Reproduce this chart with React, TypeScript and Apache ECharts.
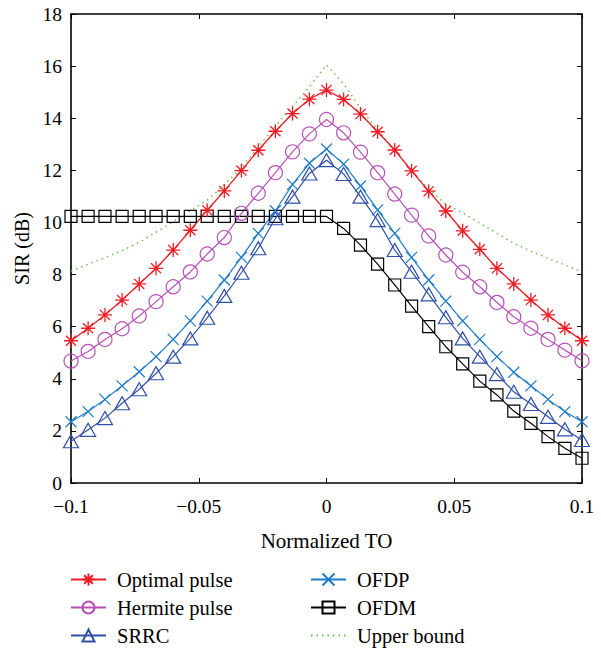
import React, { useEffect, useRef } from "react";
import * as echarts from "echarts";

const toValues = [
  -0.1, -0.0933, -0.0867, -0.08, -0.0733, -0.0667, -0.06, -0.0533, -0.0467, -0.04, -0.0333,
  -0.0267, -0.02, -0.0133, -0.0067, 0, 0.0067, 0.0133, 0.02, 0.0267, 0.0333, 0.04, 0.0467,
  0.0533, 0.06, 0.0667, 0.0733, 0.08, 0.0867, 0.0933, 0.1,
];

const optimalPulse = [
  5.46, 5.94, 6.45, 7.02, 7.64, 8.24, 8.94, 9.7, 10.47, 11.21, 11.99, 12.77, 13.5, 14.18, 14.73,
  15.08, 14.72, 14.16, 13.48, 12.78, 11.98, 11.2, 10.44, 9.68, 8.97, 8.24, 7.64, 7.02, 6.45, 5.94,
  5.46,
];
const hermitePulse = [
  4.68, 5.05, 5.51, 5.92, 6.41, 6.96, 7.53, 8.1, 8.79, 9.42, 10.35, 11.12, 11.91, 12.71, 13.4,
  13.95, 13.44, 12.7, 11.91, 11.09, 10.28, 9.48, 8.75, 8.09, 7.53, 6.93, 6.38, 5.94, 5.51, 5.1,
  4.69,
];
const srrc = [
  1.6, 2.04, 2.49, 3.06, 3.6, 4.21, 4.85, 5.55, 6.34, 7.18, 8.07, 9.01, 10.16, 10.99, 11.88, 12.39,
  11.86, 10.99, 10.09, 8.94, 8.11, 7.24, 6.36, 5.55, 4.85, 4.18, 3.5, 3.03, 2.54, 2.06, 1.65,
];
const ofdp = [
  2.35, 2.74, 3.21, 3.73, 4.27, 4.85, 5.51, 6.22, 6.98, 7.79, 8.66, 9.58, 10.45, 11.46, 12.27,
  12.82, 12.24, 11.4, 10.48, 9.58, 8.66, 7.79, 6.98, 6.22, 5.51, 4.85, 4.25, 3.73, 3.21, 2.74,
  2.35,
];
const ofdm = [
  10.23, 10.23, 10.23, 10.23, 10.23, 10.23, 10.23, 10.23, 10.23, 10.23, 10.23, 10.23, 10.23, 10.23,
  10.23, 10.23, 9.77, 9.13, 8.4, 7.6, 6.79, 6.0, 5.23, 4.57, 3.91, 3.38, 2.76, 2.29, 1.78, 1.33,
  0.95,
];
const upperBound = [
  8.13, 8.4, 8.65, 8.92, 9.24, 9.62, 10.03, 10.45, 10.85, 11.45, 12.1, 12.9, 13.7, 14.45, 15.2,
  16.05, 15.32, 14.38, 13.55, 12.78, 12.0, 11.28, 10.7, 10.37, 9.98, 9.58, 9.2, 8.9, 8.62, 8.37,
  8.1,
];

const seriesNames = ["Optimal pulse", "Hermite pulse", "SRRC", "OFDP", "OFDM", "Upper bound"];

const FONT = "'Liberation Serif', 'Times New Roman', serif";

const ASTERISK = "path://M0,-10L0,10M-10,0L10,0M-7.2,-7.2L7.2,7.2M-7.2,7.2L7.2,-7.2";
const XMARK = "path://M-10,-10L10,10M-10,10L10,-10";

function pairs(ys: number[]) {
  return ys.map((y, i) => [toValues[i], y]);
}

export default function App() {
  const ref = useRef<HTMLDivElement>(null);
  useEffect(() => {
    if (!ref.current) return;
    const chart = echarts.init(ref.current, null, { renderer: "svg" });
    const fmt = (v: number) => {
      const s = String(Number(v.toFixed(3)));
      return s.replace("-", "\u2212");
    };
    const mk = (
      name: string,
      data: number[],
      color: string,
      symbol: string,
      size: number | number[],
      extra: any = {}
    ) => ({
      name,
      type: "line",
      data: pairs(data),
      symbol,
      symbolSize: size,
      showSymbol: symbol !== "none",
      lineStyle: { color, width: 1.2, ...(extra.lineStyle || {}) },
      itemStyle: { color: "none", borderColor: color, borderWidth: 1.2, ...(extra.itemStyle || {}) },
      emphasis: { disabled: true },
      z: extra.z || 2,
    });
    const legendCommon = {
      orient: "vertical",
      itemWidth: 35,
      itemHeight: 15,
      itemGap: 7,
      padding: 0,
      height: 80,
      textStyle: { fontFamily: FONT, fontSize: 20.5, color: "#000", lineHeight: 20, padding: [0, 0, 0, 6] },
      selectedMode: false,
    };
    chart.setOption({
      animation: false,
      backgroundColor: "#fff",
      textStyle: { fontFamily: FONT },
      grid: { left: 71, right: 19, top: 14, height: 469, containLabel: false },
      legend: [
        { ...legendCommon, left: 70, top: 569, data: seriesNames.slice(0, 3) },
        {
          ...legendCommon,
          left: 310,
          top: 569,
          data: [seriesNames[3], seriesNames[4], { name: seriesNames[5], itemStyle: { opacity: 0 } }],
        },
      ],
      xAxis: [
        {
          type: "value",
          min: -0.1,
          max: 0.1,
          interval: 0.05,
          position: "bottom",
          name: "Normalized TO",
          nameLocation: "middle",
          nameGap: 47,
          nameTextStyle: { fontFamily: FONT, fontSize: 21, color: "#000" },
          axisLine: { show: true, onZero: false, lineStyle: { color: "#000", width: 1.6 } },
          axisTick: { show: true, inside: true, length: 5, lineStyle: { color: "#000", width: 1 } },
          axisLabel: { fontFamily: FONT, fontSize: 19.5, color: "#000", margin: 13, formatter: fmt },
          splitLine: { show: false },
        },
        {
          type: "value",
          min: -0.1,
          max: 0.1,
          interval: 0.05,
          position: "top",
          axisLine: { show: true, onZero: false, lineStyle: { color: "#000", width: 1.6 } },
          axisTick: { show: true, inside: true, length: 5, lineStyle: { color: "#000", width: 1 } },
          axisLabel: { show: false },
          splitLine: { show: false },
        },
      ],
      yAxis: [
        {
          type: "value",
          min: 0,
          max: 18,
          interval: 2,
          position: "left",
          name: "SIR (dB)",
          nameLocation: "middle",
          nameGap: 38,
          nameTextStyle: { fontFamily: FONT, fontSize: 20, color: "#000" },
          axisLine: { show: true, onZero: false, lineStyle: { color: "#000", width: 1.6 } },
          axisTick: { show: true, inside: true, length: 5, lineStyle: { color: "#000", width: 1 } },
          axisLabel: { fontFamily: FONT, fontSize: 19.5, color: "#000", margin: 9 },
          splitLine: { show: false },
        },
        {
          type: "value",
          min: 0,
          max: 18,
          interval: 2,
          position: "right",
          axisLine: { show: true, onZero: false, lineStyle: { color: "#000", width: 1.6 } },
          axisTick: { show: true, inside: true, length: 5, lineStyle: { color: "#000", width: 1 } },
          axisLabel: { show: false },
          splitLine: { show: false },
        },
      ],
      series: [
        mk(seriesNames[5], upperBound, "#6cc24a", "none", 0, {
          lineStyle: { type: [1.5, 4], width: 1.5 },
          z: 1,
        }),
        mk(seriesNames[4], ofdm, "#000000", "rect", 12),
        mk(seriesNames[2], srrc, "#3050a8", "triangle", [15, 13]),
        mk(seriesNames[3], ofdp, "#1f7cc8", XMARK, 11),
        mk(seriesNames[1], hermitePulse, "#b850b8", "circle", 14),
        mk(seriesNames[0], optimalPulse, "#ee1c25", ASTERISK, 14, {
          itemStyle: { color: "#ee1c25", borderColor: "#ee1c25", borderWidth: 1.3 },
          lineStyle: { width: 1.3 },
        }),
      ],
    });
    return () => chart.dispose();
  }, []);
  return (
    <div
      ref={ref}
      style={{ position: "fixed", left: 0, top: 0, width: 601, height: 648, background: "#fff" }}
    />
  );
}
